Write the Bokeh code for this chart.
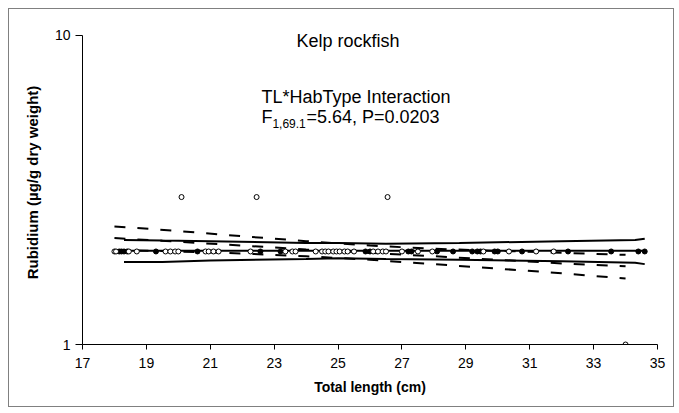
from bokeh.plotting import figure
from bokeh.models import FixedTicker, Label
from bokeh.embed import file_html
from bokeh.resources import INLINE

# ---- data ----
open_x = [18.0, 18.05, 18.45, 18.7, 19.6, 19.75, 19.9, 20.0, 20.85, 20.95, 21.1, 21.26,
          22.26, 23.35, 23.57, 23.67, 24.3, 24.5, 24.6, 24.7, 24.85, 24.95, 25.05, 25.2,
          25.3, 25.5, 26.1, 26.25, 26.4, 26.5, 27.0, 27.5, 27.95, 29.55, 30.35, 31.2, 31.75,
          20.1, 22.45, 26.55, 34.0]
open_y = [2.0, 2.0, 2.0, 2.0, 2.0, 2.0, 2.0, 2.0, 2.0, 2.0, 2.0, 2.0,
          2.0, 2.0, 2.0, 2.0, 2.0, 2.0, 2.0, 2.0, 2.0, 2.0, 2.0, 2.0,
          2.0, 2.0, 2.0, 2.0, 2.0, 2.0, 2.0, 2.0, 2.0, 2.0, 2.0, 2.0, 2.0,
          3.0, 3.0, 3.0, 1.0]
filled_x = [18.15, 18.22, 18.3, 18.4, 19.3, 20.6, 22.57, 23.2, 25.86, 26.0, 27.2, 27.3,
            28.1, 28.6, 29.2, 29.36, 29.46, 29.9, 30.0, 30.76, 32.2, 33.55, 34.4, 34.6]
filled_y = [2.0, 2.0, 2.0, 2.0, 2.0, 2.0, 2.0, 2.0, 2.0, 2.0, 2.0, 2.0,
            2.0, 2.0, 2.0, 2.0, 2.0, 2.0, 2.0, 2.0, 2.0, 2.0, 2.0, 2.0]

# fitted line and confidence limits, habitat type 1 (solid)
solid_x = [18.3, 19.5, 21.0, 24.0, 25.0, 26.5, 28.8, 32.0, 34.3, 34.6]
solid_fit = [2.01, 2.01, 2.01, 2.01, 2.01, 2.01, 2.01, 2.01, 2.01, 2.01]
solid_upper = [2.18, 2.17, 2.16, 2.13, 2.13, 2.12, 2.13, 2.16, 2.18, 2.20]
solid_lower = [1.85, 1.85, 1.87, 1.89, 1.90, 1.89, 1.88, 1.86, 1.84, 1.82]

# fitted line and confidence limits, habitat type 2 (dashed)
dash_x = [18.0, 20.0, 22.0, 24.0, 26.0, 28.0, 30.0, 32.0, 34.0]
dash_fit = [2.21, 2.15, 2.09, 2.03, 1.98, 1.93, 1.88, 1.83, 1.79]
dash_upper = [2.41, 2.33, 2.24, 2.16, 2.09, 2.04, 2.01, 1.98, 1.95]
dash_lower = [2.02, 2.00, 1.97, 1.93, 1.88, 1.82, 1.76, 1.70, 1.635]

x_ticks = [17, 19, 21, 23, 25, 27, 29, 31, 33, 35]
y_ticks = [1, 10]

FONT = "Liberation Sans"

# y range extends a little above 10 so the title can sit inside the frame;
# the axis itself is bounded to 1..10
p = figure(width=666, height=399, x_range=(17, 35), y_range=(1, 11.18), y_axis_type="log",
           output_backend="svg", toolbar_location=None,
           min_border_left=73, min_border_right=18, min_border_top=11, min_border_bottom=64)
p.styles = {"border": "1px solid #808080", "margin-left": "8px", "margin-top": "8px"}
p.outline_line_color = None
p.xgrid.visible = False
p.ygrid.visible = False
p.yaxis.bounds = (1, 10)

for ax in (p.xaxis, p.yaxis):
    ax.axis_line_color = "black"
    ax.axis_line_width = 1
    ax.major_tick_line_color = "black"
    ax.major_tick_in = 0
    ax.minor_tick_line_color = None
    ax.major_label_text_font = FONT
    ax.major_label_text_font_size = "14px"
    ax.major_label_text_color = "black"
    ax.axis_label_text_font = FONT
    ax.axis_label_text_font_style = "bold"
    ax.axis_label_text_color = "black"

p.xaxis.major_tick_out = 5
p.yaxis.major_tick_out = 7
p.xaxis.axis_label_text_font_size = "14px"
p.yaxis.axis_label_text_font_size = "15px"
p.xaxis.ticker = FixedTicker(ticks=x_ticks)
p.yaxis.ticker = FixedTicker(ticks=y_ticks, minor_ticks=[])
p.yaxis.major_label_overrides = {1: "1", 10: "10"}
p.xaxis.axis_label = "Total length (cm)"
p.yaxis.axis_label = "Rubidium (µg/g dry weight)"
p.xaxis.major_label_standoff = 8
p.xaxis.axis_label_standoff = 8
p.yaxis.major_label_standoff = 5
p.yaxis.axis_label_standoff = 11

# lines
p.line(solid_x, solid_upper, line_color="black", line_width=2)
p.line(solid_x, solid_fit, line_color="black", line_width=2)
p.line(solid_x, solid_lower, line_color="black", line_width=2)
p.line(dash_x, dash_upper, line_color="black", line_width=2, line_dash="11 12")
p.line(dash_x, dash_fit, line_color="black", line_width=2, line_dash="11 12")
p.line(dash_x, dash_lower, line_color="black", line_width=2, line_dash="11 12")

# points
p.scatter(filled_x, filled_y, size=5, fill_color="black", line_color="black")
p.scatter(open_x, open_y, size=5, fill_color="white", line_color="black", line_width=1)

# texts
p.add_layout(Label(x=25.31, y=9.63, text="Kelp rockfish", text_align="center", text_baseline="middle",
                   text_font=FONT, text_font_size="18px", text_color="black"))
p.add_layout(Label(x=22.6, y=6.30, text="TL*HabType Interaction", text_align="left", text_baseline="middle",
                   text_font=FONT, text_font_size="18px", text_color="black"))
p.add_layout(Label(x=22.6, y=5.43, text="F", text_align="left", text_baseline="middle",
                   text_font=FONT, text_font_size="18px", text_color="black"))
p.add_layout(Label(x=22.6, y=5.43, x_offset=11, y_offset=-6, text="1,69.1", text_align="left",
                   text_baseline="middle", text_font=FONT, text_font_size="12px", text_color="black"))
p.add_layout(Label(x=22.6, y=5.43, x_offset=45, text="=5.64, P=0.0203", text_align="left",
                   text_baseline="middle", text_font=FONT, text_font_size="18px", text_color="black"))

open("out.html", "w").write(file_html(p, INLINE))
